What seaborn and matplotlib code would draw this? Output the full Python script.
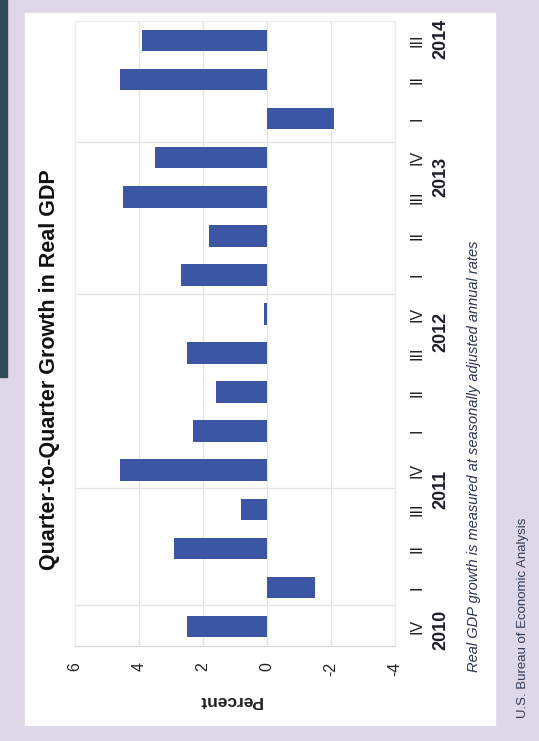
import matplotlib
matplotlib.use('Agg')
import matplotlib.pyplot as plt
import matplotlib.transforms as mtransforms
from matplotlib.patches import Rectangle
import seaborn as sns
import pandas as pd

# quarterly real GDP growth, seasonally adjusted annual rate (%)
quarters = ['IV', 'I', 'II', 'III', 'IV', 'I', 'II', 'III', 'IV',
            'I', 'II', 'III', 'IV', 'I', 'II', 'III']
years = [2010, 2011, 2011, 2011, 2011, 2012, 2012, 2012, 2012,
         2013, 2013, 2013, 2013, 2014, 2014, 2014]
growth = [2.5, -1.5, 2.9, 0.8, 4.6, 2.3, 1.6, 2.5, 0.1,
          2.7, 1.8, 4.5, 3.5, -2.1, 4.6, 3.9]
value_ticks = [6, 4, 2, 0, -2, -4]
year_labels = ['2010', '2011', '2012', '2013', '2014']

# layout bits (category units)
year_label_pos = [-0.1, 3.5, 7.55, 11.5, 15.05]
divider_pos = [0.55, 3.55, 8.5, 12.4]

bar_color = '#3c55a5'
page_color = '#ddd7e7'

df = pd.DataFrame({'period': [f'{y} {q}' for y, q in zip(years, quarters)],
                   'growth': growth})

sns.set_style('white')
plt.rcParams['font.family'] = ['Liberation Sans', 'DejaVu Sans']

W, H = 539, 741
fig = plt.figure(figsize=(W / 100, H / 100), dpi=100, facecolor=page_color)

# scanned-page framing: dark strip at left, white card for the chart
fig.patches.append(Rectangle((0, 1 - 377 / H), 7 / W, 377 / H,
                             transform=fig.transFigure, color='#2f4b55', zorder=-2))
fig.patches.append(Rectangle((25 / W, 16 / H), 470 / W, 712 / H,
                             transform=fig.transFigure, color='white', zorder=-2))

ax = fig.add_axes([75 / W, 95 / H, 320 / W, 625 / H])
ax.set_zorder(2)
ax.set_facecolor('white')

sns.barplot(data=df, x='growth', y='period', orient='h', color=bar_color,
            saturation=1, width=0.55, linewidth=0, ax=ax)

ax.set_xlim(6, -4)
ax.set_ylim(-0.5, len(growth) - 0.5)

ax.set_xticks(value_ticks)
ax.set_xticklabels([str(v) for v in value_ticks], rotation=90,
                   fontsize=11.5, color='#222222')
ax.tick_params(axis='x', length=0, pad=11.5)

ax.set_yticks(range(len(quarters)))
ax.set_yticklabels(quarters, rotation=90, fontsize=11.5, color='#222222',
                   ha='center', va='center')
ax.yaxis.tick_right()
ax.tick_params(axis='y', length=0, pad=15.5)
ax.set_ylabel('')

ax.grid(axis='x', color='#e4e4e4', lw=0.9)
ax.grid(axis='y', visible=False)
for y in divider_pos:
    ax.axhline(y, color='#e4e4e4', lw=0.9, zorder=0)
for side in ['left', 'right', 'top']:
    ax.spines[side].set_color('#ececec')
ax.spines['bottom'].set_color('#d4d4d4')
ax.set_axisbelow(True)

ax.set_xlabel('Percent', rotation=180, fontsize=12.5, fontweight='bold',
              color='#222222')
ax.xaxis.set_label_coords(155 / 320, -55 / 625)
ax.xaxis.label.set_va('center')

trans = mtransforms.blended_transform_factory(ax.transAxes, ax.transData)
for lab, pos in zip(year_labels, year_label_pos):
    ax.text(366 / 320, pos, lab, transform=trans, rotation=90, ha='center',
            va='center', fontsize=13, fontweight='bold', color='#1f1f2a')

fig.text(50 / W, 1 - 370 / H, 'Quarter-to-Quarter Growth in Real GDP',
         rotation=90, ha='center', va='center', fontsize=15.5,
         fontweight='bold', color='#111111')
fig.text(474 / W, 1 - 456 / H,
         'Real GDP growth is measured at seasonally adjusted annual rates',
         rotation=90, ha='center', va='center', fontsize=10.5,
         style='italic', color='#2a3452')
fig.text(523 / W, 1 - 618 / H, 'U.S. Bureau of Economic Analysis',
         rotation=90, ha='center', va='center', fontsize=9.5,
         color='#333a55')

fig.savefig('out.png', dpi=100, facecolor=fig.get_facecolor())
